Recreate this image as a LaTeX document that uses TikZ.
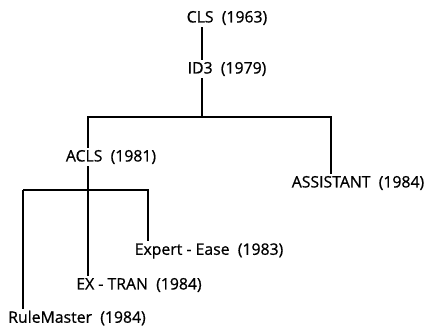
\documentclass[tikz,border=0pt]{standalone}
\usepackage{fontspec}
\setmainfont{Open Sans}[FakeBold=0.8]
\usepackage{xcolor}

\begin{document}
\begin{tikzpicture}[x=1pt,y=1pt,yscale=-1,xscale=1,
  algo/.style={inner sep=2pt,font=\fontsize{15.8}{18}\selectfont},
  link/.style={line width=1.7pt}]
\useasboundingbox (0,0) rectangle (429,331);

% Text Node
\node[algo] (cls) at (227,18) {CLS\ \ (1963)};
% Text Node
\node[algo] (id3) at (227,69) {ID3\ \ (1979)};
% Text Node
\node[algo] (acls) at (111,157) {ACLS\ \ (1981)};
% Text Node
\node[algo] (assistant) at (358,183) {ASSISTANT\ \ (1984)};
% Text Node
\node[algo] (expert) at (209,251) {Expert - Ease\ \ (1983)};
% Text Node
\node[algo] (extran) at (139,285) {EX - TRAN\ \ (1984)};
% Text Node
\node[algo] (rule) at (77,318) {RuleMaster\ \ (1984)};

% Branch points
\coordinate (t1) at (202,117);
\coordinate (t3) at (331,117);
\coordinate (t2) at (88,190);
\coordinate (t4) at (23,190);
\coordinate (t5) at (148,190);

%Straight Lines
\draw[link] (cls.south -| t1) -- (id3.north -| t1);
\draw[link] (id3.south -| t1) -- (t1) -| (acls.north -| t2);
\draw[link] (t1) -- (t3) -- (assistant.north -| t3);
\draw[link] (acls.south -| t2) -- (extran.north -| t2);
\draw[link] (t4) -- (t5) -- (expert.north -| t5);
\draw[link] (t4) -- (rule.north -| t4);

\end{tikzpicture}
\end{document}
